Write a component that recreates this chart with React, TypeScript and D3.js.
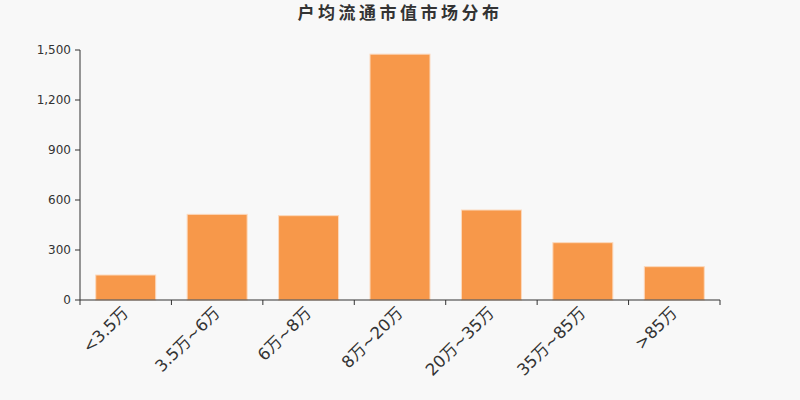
import React from "react";
import * as d3 from "d3";

const categories = ["<3.5万", "3.5万~6万", "6万~8万", "8万~20万", "20万~35万", "35万~85万", ">85万"];
const values = [150, 514, 506, 1475, 540, 344, 200];
const yTicks = [0, 300, 600, 900, 1200, 1500];
const title = "户均流通市值市场分布";

export default function App() {
  const W = 800, H = 400;
  const m = { left: 80, right: 720, top: 50, bottom: 300 };
  const x = d3.scaleBand<string>().domain(categories).range([m.left, m.right]).paddingInner(0).paddingOuter(0);
  const y = d3.scaleLinear().domain([0, 1500]).range([m.bottom, m.top]);
  const bw = x.bandwidth() * 0.656;
  const fmt = d3.format(",");
  const font = "'DejaVu Sans', 'Noto Sans CJK SC', sans-serif";
  const boundaries = categories.map((c) => x(c) as number).concat([m.right]);
  return (
    <svg width={W} height={H} style={{ display: "block", position: "absolute", left: 0, top: 0, background: "#f8f8f8" }} fontFamily={font}>
      <rect x={0} y={0} width={W} height={H} fill="#f8f8f8" />
      <text x={400} y={19} textAnchor="middle" fontSize={17} fontWeight="bold" letterSpacing={3.5} fill="#333" fontFamily="'Noto Sans CJK SC', sans-serif">{title}</text>
      {categories.map((c, i) => {
        const cx = (x(c) as number) + x.bandwidth() / 2;
        return (
          <rect key={c} x={cx - bw / 2} y={y(values[i])} width={bw} height={y(0) - y(values[i])} fill="#f7984a" stroke="#fcd9bd" strokeWidth={1} />
        );
      })}
      <line x1={m.left} x2={m.left} y1={m.top} y2={m.bottom} stroke="#333" strokeWidth={1} />
      {yTicks.map((t) => (
        <g key={t}>
          <line x1={m.left - 5} x2={m.left} y1={y(t)} y2={y(t)} stroke="#333" />
          <text x={m.left - 9} y={y(t)} dy="0.35em" textAnchor="end" fontSize={12} fill="#333">{fmt(t)}</text>
        </g>
      ))}
      <line x1={m.left} x2={m.right} y1={m.bottom} y2={m.bottom} stroke="#333" />
      {boundaries.map((b, i) => (
        <line key={i} x1={b} x2={b} y1={m.bottom} y2={m.bottom + 5} stroke="#333" />
      ))}
      {categories.map((c) => {
        const cx = (x(c) as number) + x.bandwidth() / 2;
        return (
          <text key={c} transform={`translate(${cx - 2},${m.bottom + 8}) rotate(-45)`} textAnchor="end" dy="0.5em" fontSize={16.5} fill="#333">{c}</text>
        );
      })}
    </svg>
  );
}
